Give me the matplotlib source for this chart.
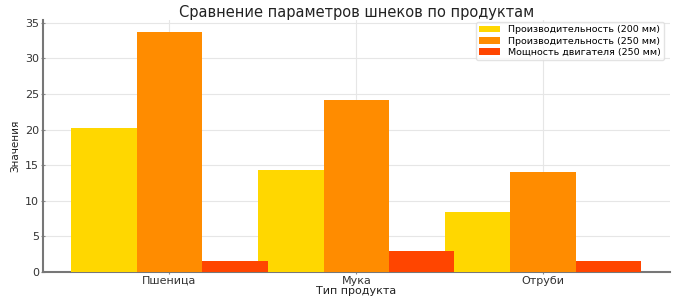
import matplotlib
matplotlib.use("Agg")
import matplotlib.pyplot as plt
import numpy as np

products = ["Пшеница", "Мука", "Отруби"]
perf_200 = [20.2, 14.3, 8.4]
perf_250 = [33.7, 24.1, 14.0]
power_250 = [1.5, 3.0, 1.5]
series_labels = ["Производительность (200 мм)", "Производительность (250 мм)", "Мощность двигателя (250 мм)"]
colors = ["#FFD700", "#FF8C00", "#FF4500"]

plt.rcParams['font.family'] = ['DejaVu Sans']
fig = plt.figure(figsize=(6.8, 3.02), dpi=100)
ax = fig.add_axes([0.063, 0.099, 0.922, 0.835])

x = np.arange(len(products))
w = 0.35
for i, (vals, lab, c) in enumerate(zip([perf_200, perf_250, power_250], series_labels, colors)):
    ax.bar(x + (i - 1) * w, vals, w, label=lab, color=c, zorder=3)

ax.set_xticks(x)
ax.set_xticklabels(products, fontsize=8, color="#333333")
ax.tick_params(axis='y', labelsize=8, labelcolor="#333333")
ax.tick_params(axis='both', length=2.5, width=0.8, color="#888888", pad=1.5, direction='inout')
ax.set_title("Сравнение параметров шнеков по продуктам", fontsize=10.5, color="#222222", pad=2)
ax.set_xlabel("Тип продукта", fontsize=8, color="#222222", labelpad=0)
ax.set_ylabel("Значения", fontsize=7.5, color="#222222", labelpad=3)
ax.grid(True, color="#e6e6e6", linewidth=0.8, zorder=0)
ax.set_axisbelow(True)
for s in ["top", "right"]:
    ax.spines[s].set_visible(False)
for s in ["left", "bottom"]:
    ax.spines[s].set_color("#777777")
    ax.spines[s].set_linewidth(1.5)
ax.set_yticks([0, 5, 10, 15, 20, 25, 30, 35])
leg = ax.legend(loc="upper right", fontsize=6.8, frameon=True, edgecolor="#dddddd",
                handlelength=2.2, borderpad=0.35, labelspacing=0.22, bbox_to_anchor=(0.998, 1.01))
fig.savefig("out.png", dpi=100)
